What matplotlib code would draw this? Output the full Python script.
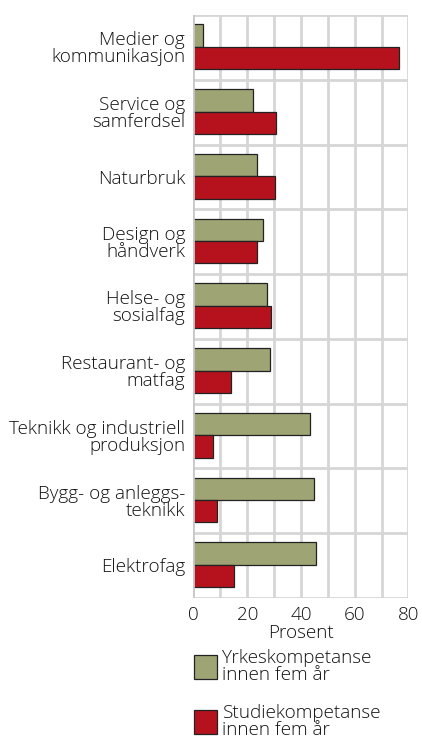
import matplotlib
matplotlib.use('Agg')
import matplotlib.pyplot as plt
import numpy as np

plt.rcParams['font.family'] = ['Open Sans', 'DejaVu Sans']
plt.rcParams['font.weight'] = 'light'

categories = ['Medier og\nkommunikasjon', 'Service og\nsamferdsel', 'Naturbruk',
              'Design og\nhåndverk', 'Helse- og\nsosialfag', 'Restaurant- og\nmatfag',
              'Teknikk og industriell\nproduksjon', 'Bygg- og anleggs-\nteknikk', 'Elektrofag']
yrke = [3.4, 22, 23.8, 26, 27.3, 28.3, 43.3, 44.8, 45.4]
studie = [76.5, 30.8, 30.4, 23.8, 29, 14, 7.3, 8.8, 15.2]
series_labels = ['Yrkeskompetanse\ninnen fem år', 'Studiekompetanse\ninnen fem år']
xticks = [0, 20, 40, 60, 80]

green = '#9ea474'
red = '#b5121e'
grid = '#d6d6d6'
txt = '#111111'
fs = 13.6

fig = plt.figure(figsize=(4.22, 7.52), dpi=100)
ax = fig.add_axes([0.4585, 0.205, 0.5095, 0.775])

y = np.arange(len(categories))
h = 0.345
b1 = ax.barh(y - h / 2 - 0.01, yrke, height=h, color=green, edgecolor='#222222', linewidth=0.9,
             label=series_labels[0], zorder=3)
b2 = ax.barh(y + h / 2 - 0.01, studie, height=h, color=red, edgecolor='#222222', linewidth=0.9,
             label=series_labels[1], zorder=3)

ax.set_ylim(len(categories) - 0.5, -0.5)
ax.set_xlim(0, 80)
ax.set_yticks(y)
ax.set_yticklabels(categories, fontsize=fs, linespacing=0.92)
ax.set_xticks(xticks)
ax.set_xticklabels([str(t) for t in xticks], fontsize=fs)
ax.tick_params(length=0, pad=6, colors=txt)
ax.tick_params(axis='x', pad=6)
ax.set_xlabel('Prosent', fontsize=fs, fontweight='light', labelpad=0, color=txt)

for xv in range(10, 81, 10):
    ax.axvline(xv, color=grid, lw=2, zorder=1)
for yv in np.arange(-0.5, len(categories), 1):
    ax.axhline(yv, color=grid, lw=2, zorder=1)
for s in ax.spines.values():
    s.set_visible(False)
ax.axvline(0, color='#c8c8c8', lw=2, zorder=4)

leg = fig.legend(handles=[b1, b2], labels=series_labels, loc='upper left',
                 bbox_to_anchor=(0.46, 0.137), frameon=False, fontsize=fs,
                 handlelength=1.2, handleheight=1.6, handletextpad=0.3,
                 labelspacing=1.05, borderaxespad=0, borderpad=0)
for t in leg.get_texts():
    t.set_linespacing(0.92)
    t.set_color(txt)

fig.savefig('out.png', dpi=100)
